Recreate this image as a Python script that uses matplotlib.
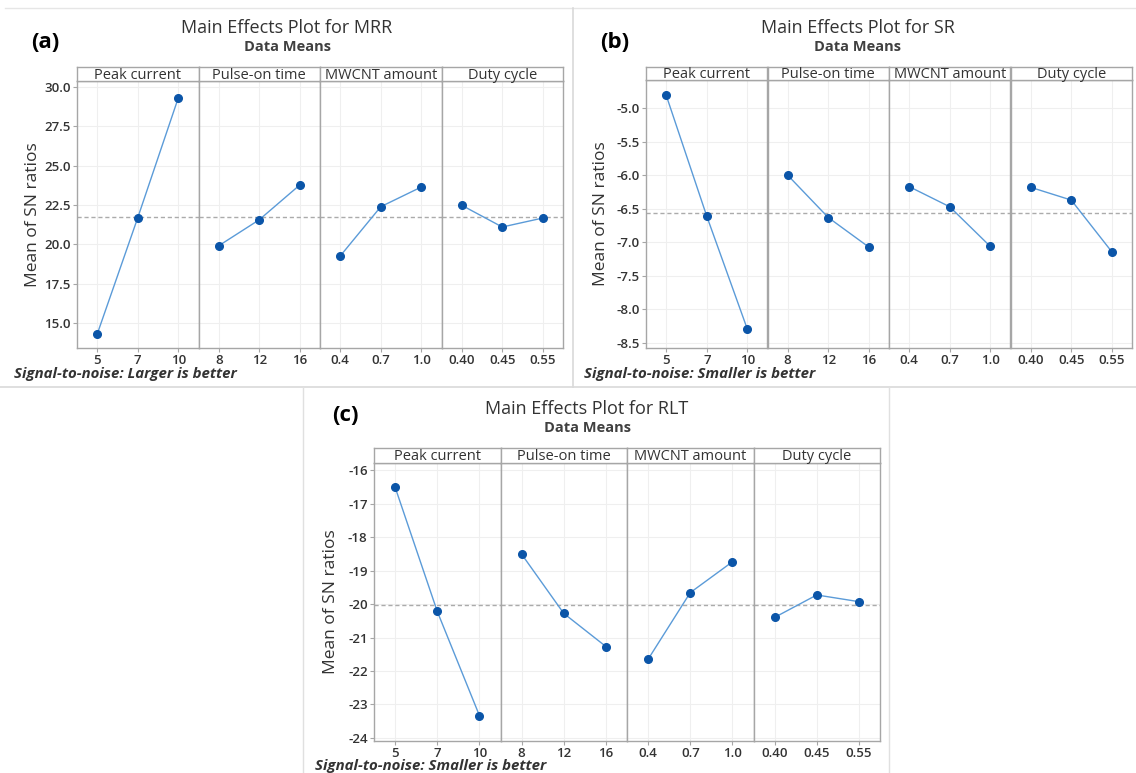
import numpy as np
import matplotlib
matplotlib.use('Agg')
import matplotlib.pyplot as plt

plt.rcParams['font.family'] = ['Open Sans', 'DejaVu Sans']

# ---- data ----
factors = ['Peak current', 'Pulse-on time', 'MWCNT amount', 'Duty cycle']
levels = [['5', '7', '10'], ['8', '12', '16'], ['0.4', '0.7', '1.0'], ['0.40', '0.45', '0.55']]

mrr_sn = [[14.30, 21.69, 29.30],
          [19.91, 21.56, 23.77],
          [19.26, 22.39, 23.64],
          [22.48, 21.10, 21.67]]
sr_sn = [[-4.81, -6.61, -8.29],
         [-6.00, -6.63, -7.07],
         [-6.17, -6.47, -7.06],
         [-6.18, -6.37, -7.14]]
rlt_sn = [[-16.51, -20.22, -23.33],
          [-18.51, -20.28, -21.27],
          [-21.65, -19.66, -18.74],
          [-20.40, -19.73, -19.93]]

W, H = 1136, 773
LINE_C = '#5b9bd8'
MARK_C = '#0b55a8'
EDGE_C = '#a6a6a6'
GRID_C = '#efefef'
TXT_C = '#333333'


def fx(px):
    return px / W


def fy(py):
    return 1 - py / H


def main_effects(fig, box, values, yticks, yfmt, ylim, title, tag, tag_xy,
                 title_x, title_y, note, note_xy, ylab_x):
    x0, x1, ys, yp, yb = box  # left, right, strip top, plot top, plot bottom
    n = len(factors)
    w = (x1 - x0) / n
    grand = np.mean(values[0])
    for i in range(n):
        left = x0 + i * w
        ax = fig.add_axes([fx(left), fy(yb), w / W, (yb - yp) / H])
        sx = fig.add_axes([fx(left), fy(yp), w / W, (yp - ys) / H])
        xs = np.arange(len(levels[i]))
        ax.plot(xs, values[i], '-', color=LINE_C, lw=1.0, zorder=3)
        ax.plot(xs, values[i], 'o', color=MARK_C, ms=5.5, zorder=4)
        ax.axhline(grand, color='#ababab', ls=(0, (3, 2)), lw=1.0, zorder=2)
        ax.set_xlim(-0.5, len(xs) - 0.5)
        ax.set_ylim(*ylim)
        ax.set_xticks(xs)
        ax.set_xticklabels(levels[i])
        ax.set_yticks(yticks)
        ax.grid(True, color=GRID_C, lw=0.8, zorder=0)
        ax.tick_params(axis='both', colors=EDGE_C, labelcolor=TXT_C,
                       labelsize=9.5, length=3, width=0.8, pad=1.5)
        for lab in ax.get_xticklabels() + ax.get_yticklabels():
            lab.set_fontweight('semibold')
        if i == 0:
            ax.set_yticklabels([yfmt % v for v in yticks])
        else:
            ax.tick_params(axis='y', left=False, labelleft=False)
        for sp in ax.spines.values():
            sp.set_color(EDGE_C)
            sp.set_linewidth(1.0)
        sx.set_xticks([])
        sx.set_yticks([])
        for sp in sx.spines.values():
            sp.set_color(EDGE_C)
            sp.set_linewidth(1.0)
        sx.text(0.5, 0.40, factors[i], ha='center', va='center',
                fontsize=10.5, color=TXT_C, transform=sx.transAxes)

    fig.text(fx(title_x), fy(title_y), title, ha='center', va='center',
             fontsize=13, color=TXT_C)
    fig.text(fx(title_x), fy(title_y + 19), 'Data Means', ha='center',
             va='center', fontsize=10.5, fontweight='bold', color='#404040')
    fig.text(fx(tag_xy[0]), fy(tag_xy[1]), tag, ha='center', va='center',
             fontsize=16, fontweight='bold', color='black')
    fig.text(fx(note_xy[0]), fy(note_xy[1]), note, ha='left', va='center',
             fontsize=10.8, fontweight='bold', fontstyle='italic', color=TXT_C)
    fig.text(fx(ylab_x), fy((yp + yb) / 2), 'Mean of SN ratios', ha='center',
             va='center', rotation=90, fontsize=12.5, color=TXT_C)


fig = plt.figure(figsize=(W / 100, H / 100), dpi=100)
fig.patch.set_facecolor('white')

# separators between panels
fig.add_artist(plt.Line2D([0, 1], [fy(387), fy(387)], color='#d9d9d9', lw=1.2))
fig.add_artist(plt.Line2D([fx(5), 1], [fy(8), fy(8)], color='#e6e6e6', lw=1.0))
fig.add_artist(plt.Line2D([fx(573), fx(573)], [fy(8), fy(387)], color='#d9d9d9', lw=1.2))
fig.add_artist(plt.Line2D([fx(303), fx(303)], [fy(387), 0], color='#e0e0e0', lw=1.0))
fig.add_artist(plt.Line2D([fx(889), fx(889)], [fy(387), 0], color='#e0e0e0', lw=1.0))

main_effects(fig, (77, 563, 67, 81, 348), mrr_sn,
             np.arange(15, 30.01, 2.5), '%.1f', (13.41, 30.38),
             'Main Effects Plot for MRR', '(a)', (45, 42), 287, 28,
             'Signal-to-noise: Larger is better', (14, 374), 33)

main_effects(fig, (646, 1132, 67, 80, 348), sr_sn,
             np.arange(-8.5, -4.99, 0.5), '%.1f', (-8.575, -4.58),
             'Main Effects Plot for SR', '(b)', (615, 42), 858, 28,
             'Signal-to-noise: Smaller is better', (584, 374), 601)

main_effects(fig, (374, 880, 448, 463, 741), rlt_sn,
             np.arange(-24, -15.99, 1), '%d', (-24.09, -15.79),
             'Main Effects Plot for RLT', '(c)', (345, 416), 587, 409,
             'Signal-to-noise: Smaller is better', (315, 766), 331)

plt.savefig('out.png', dpi=100)
plt.close()
